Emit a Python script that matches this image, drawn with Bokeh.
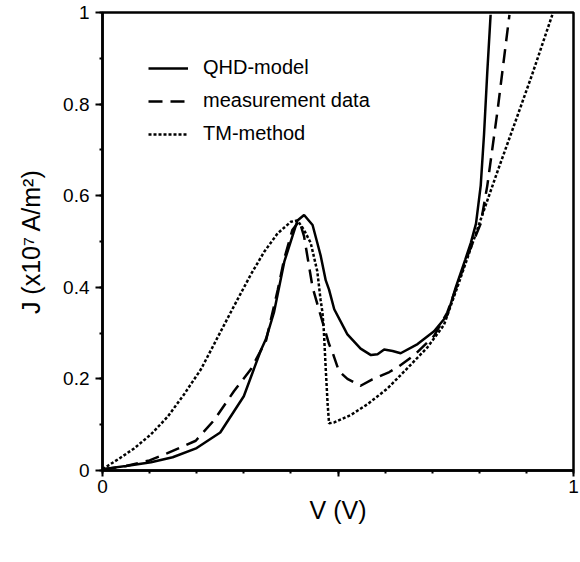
from bokeh.plotting import figure
from bokeh.models import FixedTicker, Range1d, Legend, LegendItem
from bokeh.embed import file_html
from bokeh.resources import INLINE

# ---- data ----
qhd_v = [0.0, 0.05, 0.103, 0.149, 0.2, 0.25, 0.30, 0.336, 0.347, 0.364, 0.386, 0.414,
         0.428, 0.446, 0.463, 0.474, 0.481, 0.492, 0.513, 0.52, 0.548, 0.57, 0.584,
         0.598, 0.616, 0.633, 0.669, 0.704, 0.732, 0.750, 0.770, 0.782, 0.793, 0.803,
         0.81, 0.817, 0.824]
qhd_j = [0.003, 0.01, 0.018, 0.029, 0.049, 0.083, 0.162, 0.262, 0.287, 0.345, 0.456, 0.546,
         0.558, 0.536, 0.47, 0.415, 0.395, 0.352, 0.311, 0.297, 0.266, 0.252, 0.254,
         0.264, 0.261, 0.256, 0.276, 0.304, 0.339, 0.40, 0.46, 0.497, 0.539, 0.622,
         0.733, 0.871, 0.995]

meas_v = [0.0, 0.05, 0.1, 0.138, 0.198, 0.237, 0.279, 0.315, 0.347, 0.372, 0.386, 0.403,
          0.418, 0.428, 0.446, 0.463, 0.481, 0.488, 0.502, 0.52, 0.548, 0.573, 0.609,
          0.63, 0.662, 0.704, 0.732, 0.755, 0.778, 0.803, 0.817, 0.828, 0.839, 0.849,
          0.864]
meas_j = [0.002, 0.01, 0.022, 0.038, 0.065, 0.110, 0.173, 0.221, 0.283, 0.394, 0.463, 0.525,
          0.545, 0.511, 0.40, 0.339, 0.276, 0.259, 0.217, 0.20, 0.185, 0.199, 0.215,
          0.228, 0.252, 0.294, 0.345, 0.41, 0.477, 0.539, 0.622, 0.705, 0.788, 0.871,
          0.995]

tm_v = [0.0, 0.034, 0.067, 0.103, 0.138, 0.173, 0.209, 0.237, 0.272, 0.315, 0.343, 0.372,
        0.40, 0.414, 0.428, 0.442, 0.456, 0.463, 0.467, 0.47, 0.474, 0.478, 0.481, 0.492,
        0.527, 0.563, 0.605, 0.648, 0.69, 0.725, 0.756, 0.807, 0.84, 0.876, 0.912, 0.955]
tm_j = [0.003, 0.025, 0.048, 0.079, 0.117, 0.166, 0.221, 0.276, 0.345, 0.428, 0.477, 0.518,
        0.543, 0.546, 0.525, 0.497, 0.435, 0.373, 0.345, 0.304, 0.221, 0.145, 0.103, 0.105,
        0.121, 0.145, 0.179, 0.224, 0.269, 0.318, 0.408, 0.56, 0.657, 0.76, 0.864, 0.995]

series_names = ["QHD-model", "measurement data", "TM-method"]

x_major_ticks = [0, 0.5, 1]
x_tick_labels = {0: "0", 0.5: "", 1: "1"}
x_minor_ticks = [0.0, 0.1, 0.2, 0.3, 0.4, 0.5, 0.6, 0.7, 0.8, 0.9, 1.0]
y_major_ticks = [0.0, 0.2, 0.4, 0.6, 0.8, 1.0]
y_tick_labels = {0.0: "0"}
y_minor_ticks = [0.0, 0.1, 0.2, 0.3, 0.4, 0.5, 0.6, 0.7, 0.8, 0.9, 1.0]

x_title = "V (V)"
y_title = "J (x10\u2077 A/m\u00b2)"

FONT = "Liberation Sans"

p = figure(frame_width=471, frame_height=458,
           x_range=Range1d(0, 1), y_range=Range1d(0, 1),
           output_backend="svg", toolbar_location=None,
           min_border_left=102, min_border_top=12, min_border_right=6, min_border_bottom=4)
p.grid.visible = False
p.outline_line_color = "black"
p.outline_line_width = 2.5

r1 = p.line(qhd_v, qhd_j, line_color="black", line_width=2.5)
r2 = p.line(meas_v, meas_j, line_color="black", line_width=2.5, line_dash="14 8")
r3 = p.line(tm_v, tm_j, line_color="black", line_width=2.5, line_dash="3 2")

xa = p.xaxis[0]
ya = p.yaxis[0]

for ax in (xa, ya):
    ax.axis_line_width = 2.5
    ax.axis_line_color = "black"
    ax.major_tick_line_width = 2
    ax.minor_tick_line_width = 2
    ax.major_tick_line_color = "black"
    ax.minor_tick_line_color = "black"
    ax.major_label_text_font = FONT
    ax.major_label_text_font_size = "19px"
    ax.major_label_text_color = "black"
    ax.axis_label_text_font = FONT
    ax.axis_label_text_font_size = "25px"
    ax.axis_label_text_font_style = "normal"
    ax.axis_label_text_color = "black"

xa.ticker = FixedTicker(ticks=x_major_ticks, minor_ticks=x_minor_ticks)
xa.major_label_overrides = x_tick_labels
xa.major_tick_out = 6
xa.major_tick_in = 0
xa.minor_tick_out = 3
xa.minor_tick_in = 0
xa.major_label_standoff = 3
xa.axis_label = x_title
xa.axis_label_standoff = 0

ya.ticker = FixedTicker(ticks=y_major_ticks, minor_ticks=y_minor_ticks)
ya.major_label_overrides = y_tick_labels
ya.major_tick_out = 7
ya.major_tick_in = 0
ya.minor_tick_out = 3
ya.minor_tick_in = 0
ya.major_label_standoff = 6
ya.axis_label = y_title
ya.axis_label_standoff = 15

legend = Legend(items=[LegendItem(label=series_names[0], renderers=[r1]),
                       LegendItem(label=series_names[1], renderers=[r2]),
                       LegendItem(label=series_names[2], renderers=[r3])],
                location=(46, 325), orientation="vertical", padding=0, margin=0,
                spacing=10, glyph_width=40, glyph_height=20, label_height=20,
                label_standoff=15, label_text_font=FONT, label_text_font_size="20px",
                label_text_color="black", border_line_color=None,
                background_fill_alpha=0)
p.add_layout(legend)

open("out.html", "w").write(file_html(p, INLINE))
